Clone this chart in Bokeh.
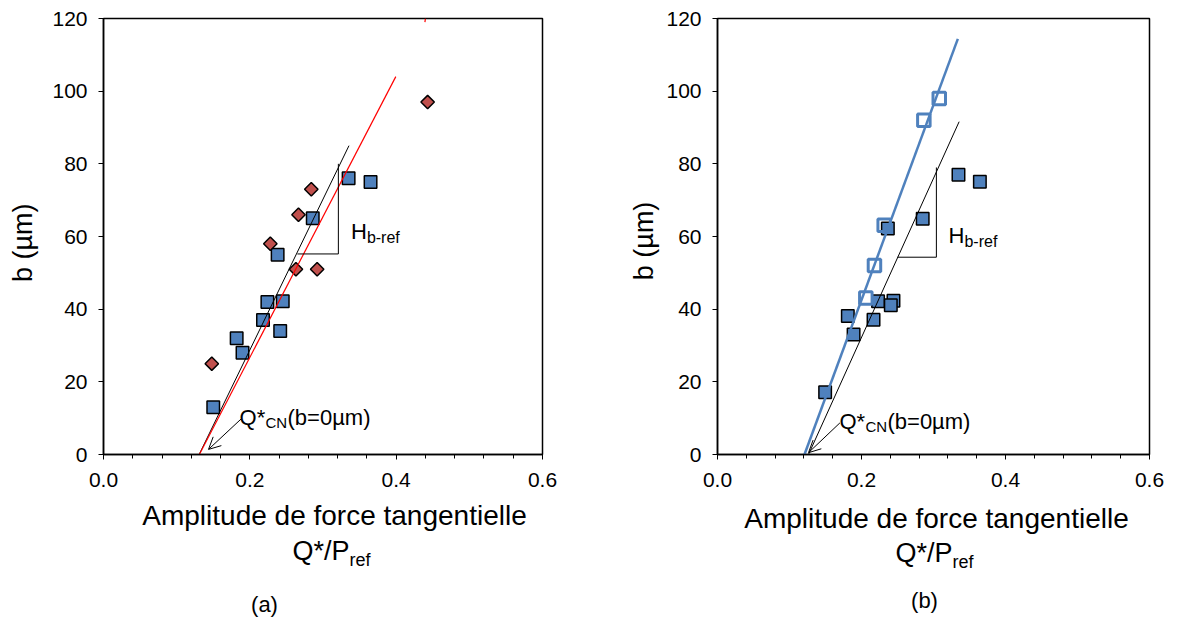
import math
from bokeh.plotting import figure
from bokeh.layouts import row, column
from bokeh.models import (Range1d, FixedTicker, PrintfTickFormatter, Label,
                          Arrow, OpenHead)
from bokeh.core.properties import value
from bokeh.embed import file_html
from bokeh.resources import INLINE

FONT = "Liberation Sans"
BLUE = "#4F81BD"
RED_M = "#C0504D"

# ---------------- (a) data ----------------
a_sq_x = [0.150, 0.182, 0.190, 0.218, 0.224, 0.245, 0.2415, 0.238, 0.286, 0.335, 0.365]
a_sq_y = [13.0, 32.0, 28.0, 37.0, 42.0, 42.2, 34.0, 55.0, 65.0, 76.0, 75.0]
a_dm_x = [0.148, 0.228, 0.2665, 0.284, 0.263, 0.292, 0.443]
a_dm_y = [25.0, 58.0, 66.0, 73.0, 51.0, 51.0, 97.0]
a_fit_black_x = [0.1307, 0.3355]
a_fit_black_y = [0.0, 85.0]
a_fit_red_x = [0.1310, 0.3995]
a_fit_red_y = [0.0, 104.0]
a_red_stub_x = [0.4393, 0.4400]
a_red_stub_y = [119.0, 120.0]
a_tri_x = [0.265, 0.321, 0.321]
a_tri_y = [55.2, 55.2, 80.0]

# ---------------- (b) data ----------------
b_sq_x = [0.1495, 0.181, 0.189, 0.2167, 0.223, 0.2444, 0.2407, 0.2366, 0.285, 0.3347, 0.3644]
b_sq_y = [17.1, 38.1, 33.0, 37.1, 42.2, 42.3, 41.1, 62.2, 64.9, 77.0, 75.1]
b_open_x = [0.206, 0.218, 0.2315, 0.2866, 0.308]
b_open_y = [43.1, 52.0, 63.1, 92.0, 98.0]
b_fit_blue_x = [0.1208, 0.3338]
b_fit_blue_y = [0.0, 114.4]
b_fit_black_x = [0.1264, 0.3356]
b_fit_black_y = [0.0, 91.6]
b_tri_x = [0.250, 0.304, 0.304]
b_tri_y = [54.3, 54.3, 79.0]

# ---------------- axes ----------------
x_major_ticks = [0.0, 0.2, 0.4, 0.6]
x_minor_ticks = [0.04, 0.08, 0.12, 0.16, 0.24, 0.28, 0.32, 0.36,
                 0.44, 0.48, 0.52, 0.56]
y_major_ticks = [0, 20, 40, 60, 80, 100, 120]
x_label = "Amplitude de force tangentielle"
x_label2 = "Q*/P"
x_label2_sub = "ref"
y_label = "b (µm)"

TOP_H = 494
BOT_H = 125


def make_fig(width, height, bl, br, bt, bb):
    p = figure(width=width, height=height, output_backend="svg", toolbar_location=None,
               x_range=Range1d(0, 0.6), y_range=Range1d(0, 120),
               min_border_left=bl, min_border_right=br, min_border_top=bt,
               min_border_bottom=bb)
    p.grid.visible = False
    p.background_fill_color = "white"
    p.border_fill_color = "white"
    p.outline_line_color = "black"
    p.outline_line_width = 1.5
    p.xaxis.ticker = FixedTicker(ticks=x_major_ticks, minor_ticks=x_minor_ticks)
    p.xaxis.formatter = PrintfTickFormatter(format="%.1f")
    p.yaxis.ticker = FixedTicker(ticks=y_major_ticks)
    for ax in (p.xaxis[0], p.yaxis[0]):
        ax.axis_line_color = "black"
        ax.axis_line_width = 1.5
        ax.major_tick_line_color = "black"
        ax.major_tick_in = 0
        ax.major_tick_out = 5
        ax.minor_tick_in = 0
        ax.minor_tick_out = 4
        ax.minor_tick_line_color = "black"
        ax.major_label_text_font = FONT
        ax.major_label_text_font_size = "21px"
        ax.major_label_text_color = "black"
    p.xaxis.major_label_standoff = 13
    p.yaxis.major_label_standoff = 11
    p.yaxis.minor_tick_line_color = None
    return p


def text_fig(w, h):
    f = figure(width=w, height=h, x_range=Range1d(0, w), y_range=Range1d(0, h),
               output_backend="svg", toolbar_location=None, min_border=0,
               x_axis_location=None, y_axis_location=None)
    f.grid.visible = False
    f.outline_line_color = None
    f.background_fill_color = "white"
    f.border_fill_color = "white"
    return f


def ftext(f, x, y_from_top, s, size, align="left", angle=0.0):
    h = f.height
    f.text(x=[x], y=[h - y_from_top], text=[s], text_font=value(FONT),
           text_font_size=value(f"{size}px"), text_align=align, text_baseline="middle",
           text_color="black", angle=angle)


def lab(p, x, y, text, size, xo=0, yo=0):
    p.add_layout(Label(x=x, y=y, text=text, text_font=FONT, text_font_size=f"{size}px",
                       text_align="left", text_baseline="alphabetic", x_offset=xo,
                       y_offset=yo, text_color="black"))


def annot(p, qx, qy, hx, hy):
    lab(p, qx, qy, "Q*", 22)
    lab(p, qx, qy, "CN", 15, xo=26, yo=-5)
    lab(p, qx, qy, "(b=0µm)", 22, xo=48)
    lab(p, hx, hy, "H", 22)
    lab(p, hx, hy, "b-ref", 16, xo=16, yo=-6)


# ---------------- figure (a) ----------------
p1 = make_fig(568, TOP_H, 63, 66, 15, TOP_H - 15 - 439)
p1.scatter(a_sq_x, a_sq_y, marker="square", size=12.5, fill_color=BLUE,
           line_color="black", line_width=1.5)
p1.scatter(a_dm_x, a_dm_y, marker="square", angle=math.pi / 4, size=9.5, fill_color=RED_M,
           line_color="black", line_width=1.5)
p1.line(a_fit_black_x, a_fit_black_y, line_color="black", line_width=1)
p1.line(a_fit_red_x, a_fit_red_y, line_color="#FF0000", line_width=1.2)
p1.line(a_red_stub_x, a_red_stub_y, line_color="#FF0000", line_width=1.2)
p1.line(a_tri_x, a_tri_y, line_color="black", line_width=1)
p1.add_layout(Arrow(end=OpenHead(size=12, line_width=1, line_color="black"),
                    x_start=0.1882, y_start=9.8, x_end=0.1435, y_end=1.4,
                    line_color="black", line_width=1))
annot(p1, 0.1859, 10.3, 0.3381, 61.3)

# ---------------- figure (b) ----------------
p2 = make_fig(510, TOP_H, 57, 21, 18, TOP_H - 18 - 439)
p2.scatter(b_sq_x, b_sq_y, marker="square", size=12.5, fill_color=BLUE,
           line_color="black", line_width=1.5)
p2.line(b_fit_black_x, b_fit_black_y, line_color="black", line_width=1)
p2.line(b_fit_blue_x, b_fit_blue_y, line_color=BLUE, line_width=2.5)
p2.line(b_tri_x, b_tri_y, line_color="black", line_width=1)
p2.scatter(b_open_x, b_open_y, marker="square", size=12.5, fill_color=None,
           line_color=BLUE, line_width=3)
p2.add_layout(Arrow(end=OpenHead(size=12, line_width=1, line_color="black"),
                    x_start=0.170, y_start=8.7, x_end=0.1264, y_end=0.5,
                    line_color="black", line_width=1))
annot(p2, 0.1694, 9.2, 0.3208, 60.2)

# ---------------- axis-title panels ----------------
yl1 = text_fig(40, TOP_H)
ftext(yl1, 22, 254, y_label, 27, align="center", angle=math.pi / 2)
yl2 = text_fig(52, TOP_H)
ftext(yl2, 35, 252, y_label, 27, align="center", angle=math.pi / 2)

t1 = text_fig(608, BOT_H)
ftext(t1, 334, 21, x_label, 28, align="center")
ftext(t1, 292, 56, x_label2, 27)
ftext(t1, 349, 65, x_label2_sub, 18)
ftext(t1, 264, 110, "(a)", 22, align="center")

t2 = text_fig(562, BOT_H)
ftext(t2, 328, 24, x_label, 28, align="center")
ftext(t2, 287, 58, x_label2, 27)
ftext(t2, 344, 67, x_label2_sub, 18)
ftext(t2, 316, 106, "(b)", 22, align="center")

layout = column(row(yl1, p1, yl2, p2), row(t1, t2))
open("out.html", "w").write(file_html(layout, INLINE))
